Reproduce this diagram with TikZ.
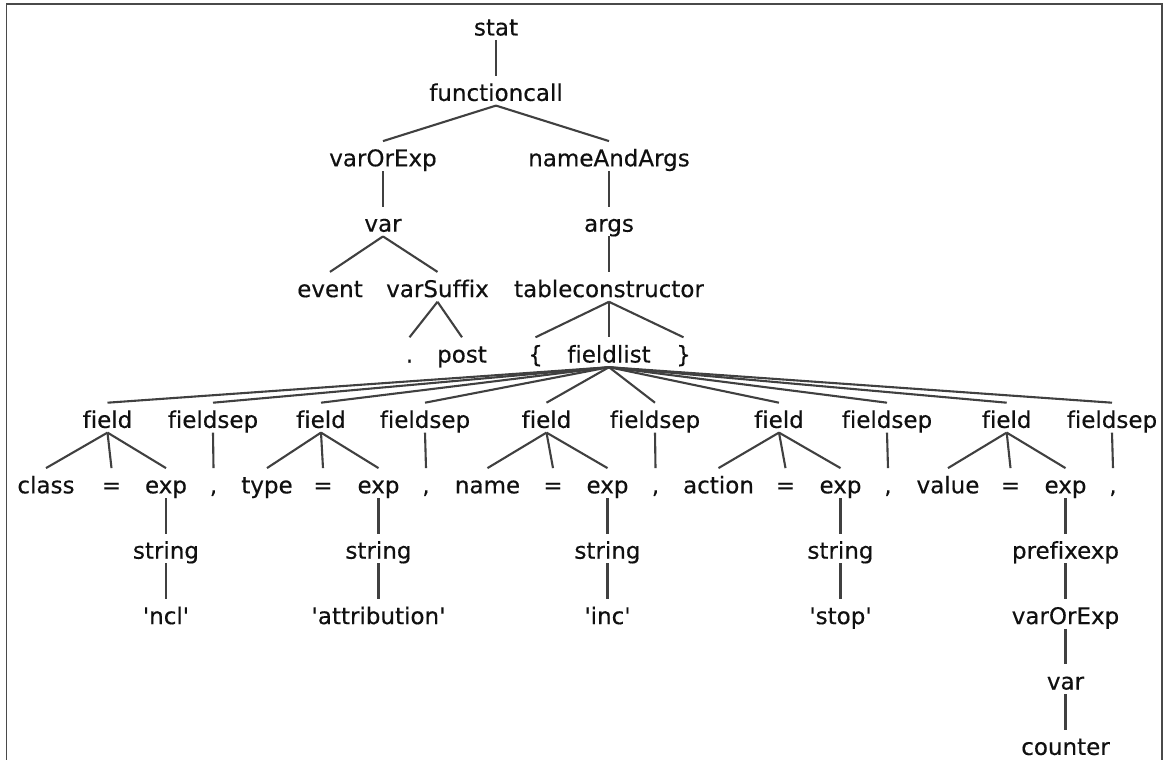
\documentclass[tikz,border=0pt]{standalone}
\usepackage{fontspec}
\newfontfamily\treefont{DejaVu Sans}[Ligatures={NoCommon}, FakeBold=0.4]
\definecolor{edgecol}{HTML}{404040}
\definecolor{framecol}{HTML}{4a4a4a}
\definecolor{inkcol}{HTML}{101010}
\begin{document}
\begin{tikzpicture}[x=1pt,y=-1pt,
  tn/.style={font=\treefont\fontsize{23}{28}\selectfont, text=inkcol,
             inner sep=0pt, text height=25pt, text depth=4.5pt, anchor=base},
  edge/.style={draw=edgecol, line width=2.1pt}]
\useasboundingbox (0,0) rectangle (1165,760);
% open frame around the tree
\draw[framecol, line width=1.7pt] (6.6,760) -- (6.6,4.2) -- (1162.3,4.2) -- (1162.3,760);

% rows: baseline y = 35.5 + 65.4 k
\node[tn] (stat) at (496,35.5) {stat};
\node[tn] (fc)   at (496,100.9) {functioncall};
\node[tn] (voe)  at (383,166.3) {varOrExp};
\node[tn] (naa)  at (609,166.3) {nameAndArgs};
\node[tn] (var)  at (383,231.7) {var};
\node[tn] (args) at (609,231.7) {args};
\node[tn] (ev)   at (330,297.1) {event};
\node[tn] (vs)   at (437.5,297.1) {varSuffix};
\node[tn] (tc)   at (609,297.1) {tableconstructor};
\node[tn] (dot)  at (409.5,362.5) {.};
\node[tn] (post) at (462,362.5) {post};
\node[tn] (lb)   at (535.5,362.5) {\{};
\node[tn] (fl)   at (609,362.5) {fieldlist};
\node[tn] (rb)   at (683.5,362.5) {\}};

% field / fieldsep row
\node[tn] (f1)  at (107.5,427.9) {field};
\node[tn] (s1)  at (213,427.9) {fieldsep};
\node[tn] (f2)  at (321,427.9) {field};
\node[tn] (s2)  at (425,427.9) {fieldsep};
\node[tn] (f3)  at (546.5,427.9) {field};
\node[tn] (s3)  at (655,427.9) {fieldsep};
\node[tn] (f4)  at (779,427.9) {field};
\node[tn] (s4)  at (887,427.9) {fieldsep};
\node[tn] (f5)  at (1006.7,427.9) {field};
\node[tn] (s5)  at (1112,427.9) {fieldsep};

% name = exp , row
\node[tn] (k1)  at (46,493.3) {class};
\node[tn] (q1)  at (111.5,493.3) {=};
\node[tn] (e1)  at (166,493.3) {exp};
\node[tn] (c1)  at (213.5,493.3) {,};
\node[tn] (k2)  at (267,493.3) {type};
\node[tn] (q2)  at (323,493.3) {=};
\node[tn] (e2)  at (378.5,493.3) {exp};
\node[tn] (c2)  at (426,493.3) {,};
\node[tn] (k3)  at (487.5,493.3) {name};
\node[tn] (q3)  at (553,493.3) {=};
\node[tn] (e3)  at (607.5,493.3) {exp};
\node[tn] (c3)  at (655.5,493.3) {,};
\node[tn] (k4)  at (718.5,493.3) {action};
\node[tn] (q4)  at (785.5,493.3) {=};
\node[tn] (e4)  at (840.5,493.3) {exp};
\node[tn] (c4)  at (888,493.3) {,};
\node[tn] (k5)  at (948,493.3) {value};
\node[tn] (q5)  at (1010.5,493.3) {=};
\node[tn] (e5)  at (1065.5,493.3) {exp};
\node[tn] (c5)  at (1113,493.3) {,};

% expression chains
\node[tn] (st1) at (166,558.7) {string};
\node[tn] (st2) at (378.5,558.7) {string};
\node[tn] (st3) at (607.5,558.7) {string};
\node[tn] (st4) at (840.5,558.7) {string};
\node[tn] (pe)  at (1065.5,558.7) {prefixexp};
\node[tn] (l1)  at (166,624.1) {\textquotesingle ncl\textquotesingle};
\node[tn] (l2)  at (378.5,624.1) {\textquotesingle attribution\textquotesingle};
\node[tn] (l3)  at (607.5,624.1) {\textquotesingle inc\textquotesingle};
\node[tn] (l4)  at (840.5,624.1) {\textquotesingle stop\textquotesingle};
\node[tn] (voe2) at (1065.5,624.1) {varOrExp};
\node[tn] (var2) at (1065.5,689.5) {var};
\node[tn] (cnt)  at (1065.5,754.9) {counter};

% parent -> child connectors
\foreach \p/\c in {stat/fc, fc/voe, fc/naa, voe/var, naa/args,
    var/ev, var/vs, args/tc, vs/dot, vs/post, tc/lb, tc/fl, tc/rb,
    fl/f1, fl/s1, fl/f2, fl/s2, fl/f3, fl/s3, fl/f4, fl/s4, fl/f5, fl/s5,
    f1/k1, f1/q1, f1/e1, s1/c1,
    f2/k2, f2/q2, f2/e2, s2/c2,
    f3/k3, f3/q3, f3/e3, s3/c3,
    f4/k4, f4/q4, f4/e4, s4/c4,
    f5/k5, f5/q5, f5/e5, s5/c5,
    e1/st1, e2/st2, e3/st3, e4/st4, e5/pe,
    st1/l1, st2/l2, st3/l3, st4/l4, pe/voe2, voe2/var2, var2/cnt}
  \draw[edge] (\p.south) -- (\c.north);
\end{tikzpicture}
\end{document}
